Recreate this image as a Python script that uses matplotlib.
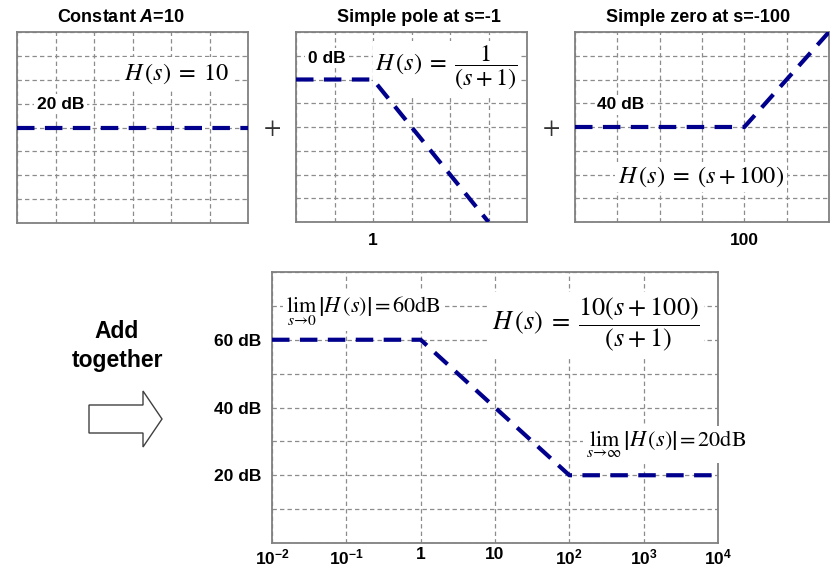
import matplotlib
matplotlib.use("Agg")
import matplotlib.pyplot as plt
from matplotlib.patches import Polygon

plt.rcParams['font.family'] = ['Liberation Sans', 'DejaVu Sans']
plt.rcParams['mathtext.fontset'] = 'custom'
plt.rcParams['mathtext.rm'] = 'Liberation Sans:bold'
plt.rcParams['mathtext.bf'] = 'Liberation Sans:bold'
plt.rcParams['mathtext.it'] = 'Liberation Sans:italic:bold'

# ---- data ----
decades = [1e-2, 1e-1, 1, 1e1, 1e2, 1e3, 1e4]
decade_labels = ['$10^{-2}$', '$10^{-1}$', '1', '10', '$10^{2}$', '$10^{3}$', '$10^{4}$']

const_w = [1e-2, 1e4]
const_db = [20, 20]

pole_w = [1e-2, 1, 1e3]
pole_db = [0, 0, -60]

zero_w = [1e-2, 1e2, 1e4]
zero_db = [40, 40, 80]

total_w = [1e-2, 1, 1e2, 1e4]
total_db = [60, 60, 20, 20]
total_ylabels = {20: '20 dB', 40: '40 dB', 60: '60 dB'}

LINE = '#00008c'
GRID = '#8c8c8c'
SPINE = '#808080'

W, H = 831, 566
fig = plt.figure(figsize=(W / 100, H / 100), dpi=100)

ov = fig.add_axes([0, 0, 1, 1], zorder=-1)
ov.set_xlim(0, W)
ov.set_ylim(H, 0)
ov.axis('off')


def mkax(x0, y0, x1, y1, ylim):
    ax = fig.add_axes([x0 / W, (H - y1) / H, (x1 - x0) / W, (y1 - y0) / H])
    ax.set_xscale('log')
    ax.set_xlim(1e-2, 1e4)
    ax.set_ylim(*ylim)
    ax.set_xticks(decades)
    ax.set_yticks(range(ylim[0], ylim[1] + 1, 10))
    ax.minorticks_off()
    ax.set_xticklabels([])
    ax.set_yticklabels([])
    ax.tick_params(length=0, labelsize=12.5)
    ax.grid(True, linestyle=(0, (3.5, 2.5)), color=GRID, lw=0.9)
    for s in ax.spines.values():
        s.set_color(SPINE)
        s.set_linewidth(1.3)
    return ax


dash = (0, (4.2, 2.5))
wbox = dict(facecolor='white', edgecolor='none', pad=2)
LBL = 12.5

# Panel 1
a1 = mkax(17, 32, 248, 223, (-20, 60))
a1.plot(const_w, const_db, color=LINE, lw=3, linestyle=dash, zorder=4, clip_on=False)
a1.text(0.19, 0.623, '20 dB', transform=a1.transAxes, ha='center', va='center',
        fontsize=LBL, fontweight='bold', bbox=wbox, zorder=3)
a1.text(0.69, 0.782, r'$H\,(s)\;=\;10$', transform=a1.transAxes, ha='center', va='center',
        fontsize=17.5, math_fontfamily='stix', bbox=dict(facecolor='white', edgecolor='none', pad=3), zorder=3)

# Panel 2
a2 = mkax(296, 32, 527, 222, (-60, 20))
a2.plot(pole_w, pole_db, color=LINE, lw=3, linestyle=dash, zorder=4)
a2.set_xticklabels(['', '', '1', '', '', '', ''], fontweight='bold')
a2.tick_params(pad=8)
a2.text(0.134, 0.863, '0 dB', transform=a2.transAxes, ha='center', va='center',
        fontsize=LBL, fontweight='bold', bbox=wbox, zorder=3)
a2.text(0.652, 0.81, r'$H\,(s)\;=\;\dfrac{1}{(s+1)}$', transform=a2.transAxes, ha='center', va='center',
        fontsize=17.5, math_fontfamily='stix', bbox=dict(facecolor='white', edgecolor='none', pad=2), zorder=3)

# Panel 3
a3 = mkax(575, 32, 829, 222, (0, 80))
a3.plot(zero_w, zero_db, color=LINE, lw=3, linestyle=dash, zorder=4)
a3.set_xticklabels(['', '', '', '', '100', '', ''], fontweight='bold')
a3.tick_params(pad=8)
a3.text(0.496, 0.237, r'$H\,(s)\;=\;(s+100)$', transform=a3.transAxes, ha='center', va='center',
        fontsize=17.5, math_fontfamily='stix', bbox=dict(facecolor='white', edgecolor='none', pad=2), zorder=3)
a3.text(0.181, 0.616, '40 dB', transform=a3.transAxes, ha='center', va='center',
        fontsize=LBL, fontweight='bold', bbox=wbox, zorder=3)

# Bottom panel
a4 = mkax(272, 272, 718, 543, (0, 80))
a4.plot(total_w, total_db, color=LINE, lw=3, linestyle=dash, zorder=4)
a4.set_xticklabels(decade_labels, fontweight='bold')
a4.set_yticklabels([total_ylabels.get(v, '') for v in range(0, 81, 10)], fontweight='bold')
a4.tick_params(axis='x', pad=3)
a4.tick_params(axis='y', pad=8)
a4.text(0.031, 0.852, r'$\lim_{s\to 0}\,\left|H\,(s)\right|\,=\,60\mathrm{dB}$', transform=a4.transAxes,
        ha='left', va='baseline', fontsize=16, math_fontfamily='stix', bbox=wbox, zorder=3)
a4.text(0.726, 0.806, r'$H\,(s)\;=\;\dfrac{10(s+100)}{(s+1)}$', transform=a4.transAxes,
        ha='center', va='center', fontsize=19, math_fontfamily='stix',
        bbox=dict(facecolor='white', edgecolor='none', pad=3), zorder=3)
a4.text(0.704, 0.354, r'$\lim_{s\to\infty}\,\left|H\,(s)\right|\,=\,20\mathrm{dB}$', transform=a4.transAxes,
        ha='left', va='baseline', fontsize=16, math_fontfamily='stix', bbox=wbox, zorder=3, clip_on=False)

# Titles and decorations
ov.text(121, 17, 'Constant $A$=10', ha='center', va='center', fontsize=13, fontweight='bold')
ov.text(419, 17, 'Simple pole at s=-1', ha='center', va='center', fontsize=13, fontweight='bold')
ov.text(698, 17, 'Simple zero at s=-100', ha='center', va='center', fontsize=13, fontweight='bold')
ov.text(272, 128, '$+$', ha='center', va='center', fontsize=18, math_fontfamily='stix', color='#333333')
ov.text(551, 128, '$+$', ha='center', va='center', fontsize=18, math_fontfamily='stix', color='#333333')
ov.text(117, 332, 'Add', ha='center', va='center', fontsize=16.5, fontweight='bold')
ov.text(117, 360, 'together', ha='center', va='center', fontsize=16.5, fontweight='bold')
arrow_pts = [(89, 405), (143, 405), (143, 391), (162, 419), (143, 447), (143, 433), (89, 433)]
ov.add_patch(Polygon(arrow_pts, closed=True, facecolor='white', edgecolor='#404040', lw=1))

fig.savefig('out.png', dpi=100)
